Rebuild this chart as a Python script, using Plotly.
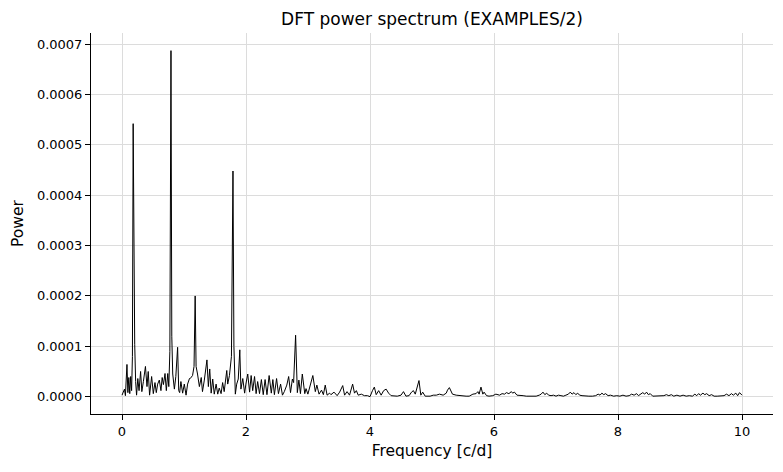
import plotly.graph_objects as go

# Frequency [c/d]
freq = [
    0.00, 0.02, 0.04, 0.055, 0.07, 0.08, 0.095, 0.11, 0.125, 0.14, 0.155, 0.168, 0.18, 0.192, 0.205,
    0.22, 0.235, 0.255, 0.275, 0.30, 0.32, 0.345, 0.378, 0.403, 0.423, 0.445, 0.478, 0.505, 0.532,
    0.553, 0.575, 0.602, 0.628, 0.648, 0.668, 0.694, 0.715, 0.738, 0.755, 0.772, 0.79, 0.803, 0.818,
    0.845, 0.868, 0.897, 0.915, 0.93, 0.95, 0.978, 1.005, 1.033, 1.058, 1.088, 1.10, 1.138, 1.162,
    1.18, 1.195, 1.218, 1.248, 1.278, 1.298, 1.328, 1.37, 1.393, 1.415, 1.438, 1.463, 1.488, 1.518,
    1.544, 1.568, 1.598, 1.623, 1.648, 1.69, 1.705, 1.733, 1.765, 1.79, 1.805, 1.828, 1.85, 1.875,
    1.90, 1.918, 1.948, 1.978, 1.998, 2.028, 2.058, 2.083, 2.108, 2.138, 2.163, 2.188, 2.218, 2.248,
    2.278, 2.308, 2.338, 2.373, 2.408, 2.433, 2.458, 2.493, 2.523, 2.558, 2.588, 2.618, 2.658, 2.688,
    2.718, 2.748, 2.768, 2.80, 2.828, 2.853, 2.878, 2.908, 2.948, 2.968, 2.998, 3.038, 3.078, 3.118,
    3.143, 3.178, 3.218, 3.248, 3.278, 3.308, 3.348,
    3.37, 3.42, 3.47, 3.51, 3.56, 3.59, 3.63, 3.67, 3.72, 3.75, 3.78, 3.81, 3.86, 3.91, 3.96, 4.00,
    4.04, 4.07, 4.10, 4.14, 4.18, 4.22, 4.26, 4.30, 4.34, 4.39, 4.44, 4.50, 4.54, 4.58, 4.63, 4.67,
    4.70, 4.73, 4.76, 4.79, 4.82, 4.85, 4.89, 4.97,
    5.02, 5.07, 5.12, 5.18, 5.23, 5.25, 5.28, 5.31, 5.33, 5.39, 5.44, 5.50, 5.55, 5.60, 5.66, 5.71,
    5.74, 5.76, 5.79, 5.82, 5.84, 5.88, 5.92, 5.98, 6.03, 6.09, 6.13, 6.17, 6.20, 6.24, 6.28, 6.30,
    6.33, 6.37, 6.41, 6.47, 6.52, 6.57, 6.63, 6.68, 6.73,
    6.76, 6.79, 6.82, 6.85, 6.88, 6.92, 6.96, 7.00, 7.04, 7.08, 7.12, 7.16, 7.20, 7.23, 7.26, 7.29,
    7.32, 7.35, 7.38, 7.42, 7.47, 7.53, 7.59, 7.64, 7.68, 7.71, 7.74, 7.77, 7.80, 7.84, 7.88, 7.93,
    7.98, 8.03, 8.08, 8.13, 8.18, 8.22, 8.26, 8.30, 8.33, 8.37, 8.40, 8.43, 8.46, 8.49, 8.52, 8.56,
    8.62, 8.68, 8.74, 8.78, 8.82, 8.86, 8.90, 8.95, 9.00, 9.05, 9.10, 9.15, 9.20, 9.24, 9.27, 9.30,
    9.33, 9.37, 9.40, 9.43, 9.47, 9.51, 9.55, 9.60, 9.66, 9.71, 9.75, 9.79, 9.83, 9.86, 9.90, 9.93,
    9.96, 10.0,
]

# Power in units of 1e-5
power_1e5 = [
    0.3, 0.8, 1.5, 0.2, 3.0, 6.4, 0.8, 3.8, 0.6, 4.0, 1.2, 8.0, 54.2, 14.0, 10.4,
    3.0, 0.3, 3.6, 1.2, 5.0, 1.0, 3.0, 6.0, 2.0, 5.0, 0.3, 4.0, 0.6, 2.8,
    0.8, 2.5, 3.3, 1.2, 3.8, 2.4, 4.6, 1.2, 4.6, 2.0, 9.0, 68.7, 12.0, 4.5,
    1.5, 4.0, 9.8, 1.2, 0.8, 3.0, 0.7, 2.5, 0.3, 2.5, 3.6, 3.6, 4.2, 6.0,
    20.0, 6.0, 4.5, 2.0, 3.8, 1.0, 3.3, 7.3, 2.0, 5.5, 0.7, 3.5, 0.5, 2.5,
    0.5, 1.7, 0.6, 2.8, 1.0, 5.2, 2.5, 4.2, 8.0, 44.8, 10.0, 0.5, 2.5, 3.5,
    9.3, 1.5, 3.6, 0.7, 2.5, 4.5, 0.9, 4.2, 1.2, 4.0, 0.6, 3.0, 0.6, 3.4,
    0.4, 3.4, 0.4, 4.2, 0.7, 3.4, 0.4, 3.6, 0.6, 2.5, 0.3, 1.0, 2.3, 4.0,
    0.8, 3.5, 2.8, 12.2, 0.8, 3.3, 0.6, 4.5, 0.6, 1.6, 0.5, 2.3, 4.2, 1.0,
    2.3, 0.5, 1.3, 0.4, 2.3, 0.3, 0.7,
    0.4, 0.9, 0.2, 0.9, 2.2, 0.3, 1.0, 0.3, 2.5, 0.7, 1.2, 0.3, 0.5, 0.2, 0.2, 0.0,
    1.2, 1.9, 0.4, 1.2, 0.3, 1.2, 1.5, 0.7, 0.2, 0.1, 0.1, 0.3, 1.0, 0.1, 0.2, 0.9,
    1.2, 0.5, 1.8, 3.2, 0.3, 0.9, 0.1, 0.1,
    0.3, 0.3, 0.5, 0.3, 0.7, 1.3, 1.8, 0.9, 0.5, 0.3, 0.2, 0.1, 0.1, 0.1, 0.5, 0.6,
    1.0, 0.5, 1.9, 0.5, 0.9, 0.2, 0.1, 0.2, 0.5, 0.3, 0.6, 0.5, 0.8, 0.6, 1.0, 0.7,
    0.9, 0.3, 0.2, 0.2, 0.1, 0.1, 0.1, 0.1, 0.3,
    0.5, 0.9, 0.4, 0.7, 0.3, 0.2, 0.3, 0.1, 0.3, 0.2, 0.1, 0.3, 0.5, 0.9, 0.5, 0.8,
    0.4, 0.7, 0.3, 0.2, 0.1, 0.1, 0.1, 0.2, 0.5, 0.3, 0.7, 0.4, 0.6, 0.2, 0.3, 0.1,
    0.2, 0.1, 0.3, 0.1, 0.2, 0.5, 0.3, 0.6, 0.2, 0.5, 0.8, 0.5, 0.9, 0.4, 0.6, 0.1,
    0.1, 0.1, 0.2, 0.4, 0.2, 0.4, 0.1, 0.3, 0.1, 0.3, 0.1, 0.2, 0.1, 0.5, 0.2, 0.6,
    0.3, 0.7, 0.4, 0.6, 0.2, 0.4, 0.1, 0.1, 0.1, 0.2, 0.5, 0.2, 0.6, 0.3, 0.7, 0.2,
    0.8, 0.3,
]

power = [p * 1e-5 for p in power_1e5]

x_ticks = [0, 2, 4, 6, 8, 10]
y_ticks = [0.0, 0.0001, 0.0002, 0.0003, 0.0004, 0.0005, 0.0006, 0.0007]

fig = go.Figure()
fig.add_trace(go.Scatter(x=freq, y=power, mode="lines",
                         line=dict(color="black", width=1), showlegend=False))

font_family = "DejaVu Sans"
fig.update_layout(
    width=783, height=472,
    margin=dict(l=91, r=10, t=33, b=58),
    paper_bgcolor="white", plot_bgcolor="white",
    font=dict(family=font_family, size=13, color="black"),
    title=dict(text="DFT power spectrum (EXAMPLES/2)", x=0.5518, xanchor="center",
               y=0.959, yanchor="middle", font=dict(size=17, family=font_family)),
)
fig.update_xaxes(
    range=[-0.5, 10.5], tickvals=x_ticks, ticktext=[str(v) for v in x_ticks],
    showgrid=True, gridcolor="#dcdcdc", gridwidth=1, zeroline=False,
    showline=True, linecolor="black", linewidth=1, mirror=False,
    ticks="outside", ticklen=5, tickcolor="black",
    title=dict(text="Frequency [c/d]", font=dict(size=15.5), standoff=7),
)
fig.update_yaxes(
    range=[-3.44e-5, 7.22e-4], tickvals=y_ticks, ticktext=[f"{v:.4f}" for v in y_ticks],
    showgrid=True, gridcolor="#dcdcdc", gridwidth=1, zeroline=False,
    showline=True, linecolor="black", linewidth=1, mirror=False,
    ticks="outside", ticklen=5, tickcolor="black",
    title=dict(text="Power", font=dict(size=15.5), standoff=9),
)

fig.write_html("out.html")
